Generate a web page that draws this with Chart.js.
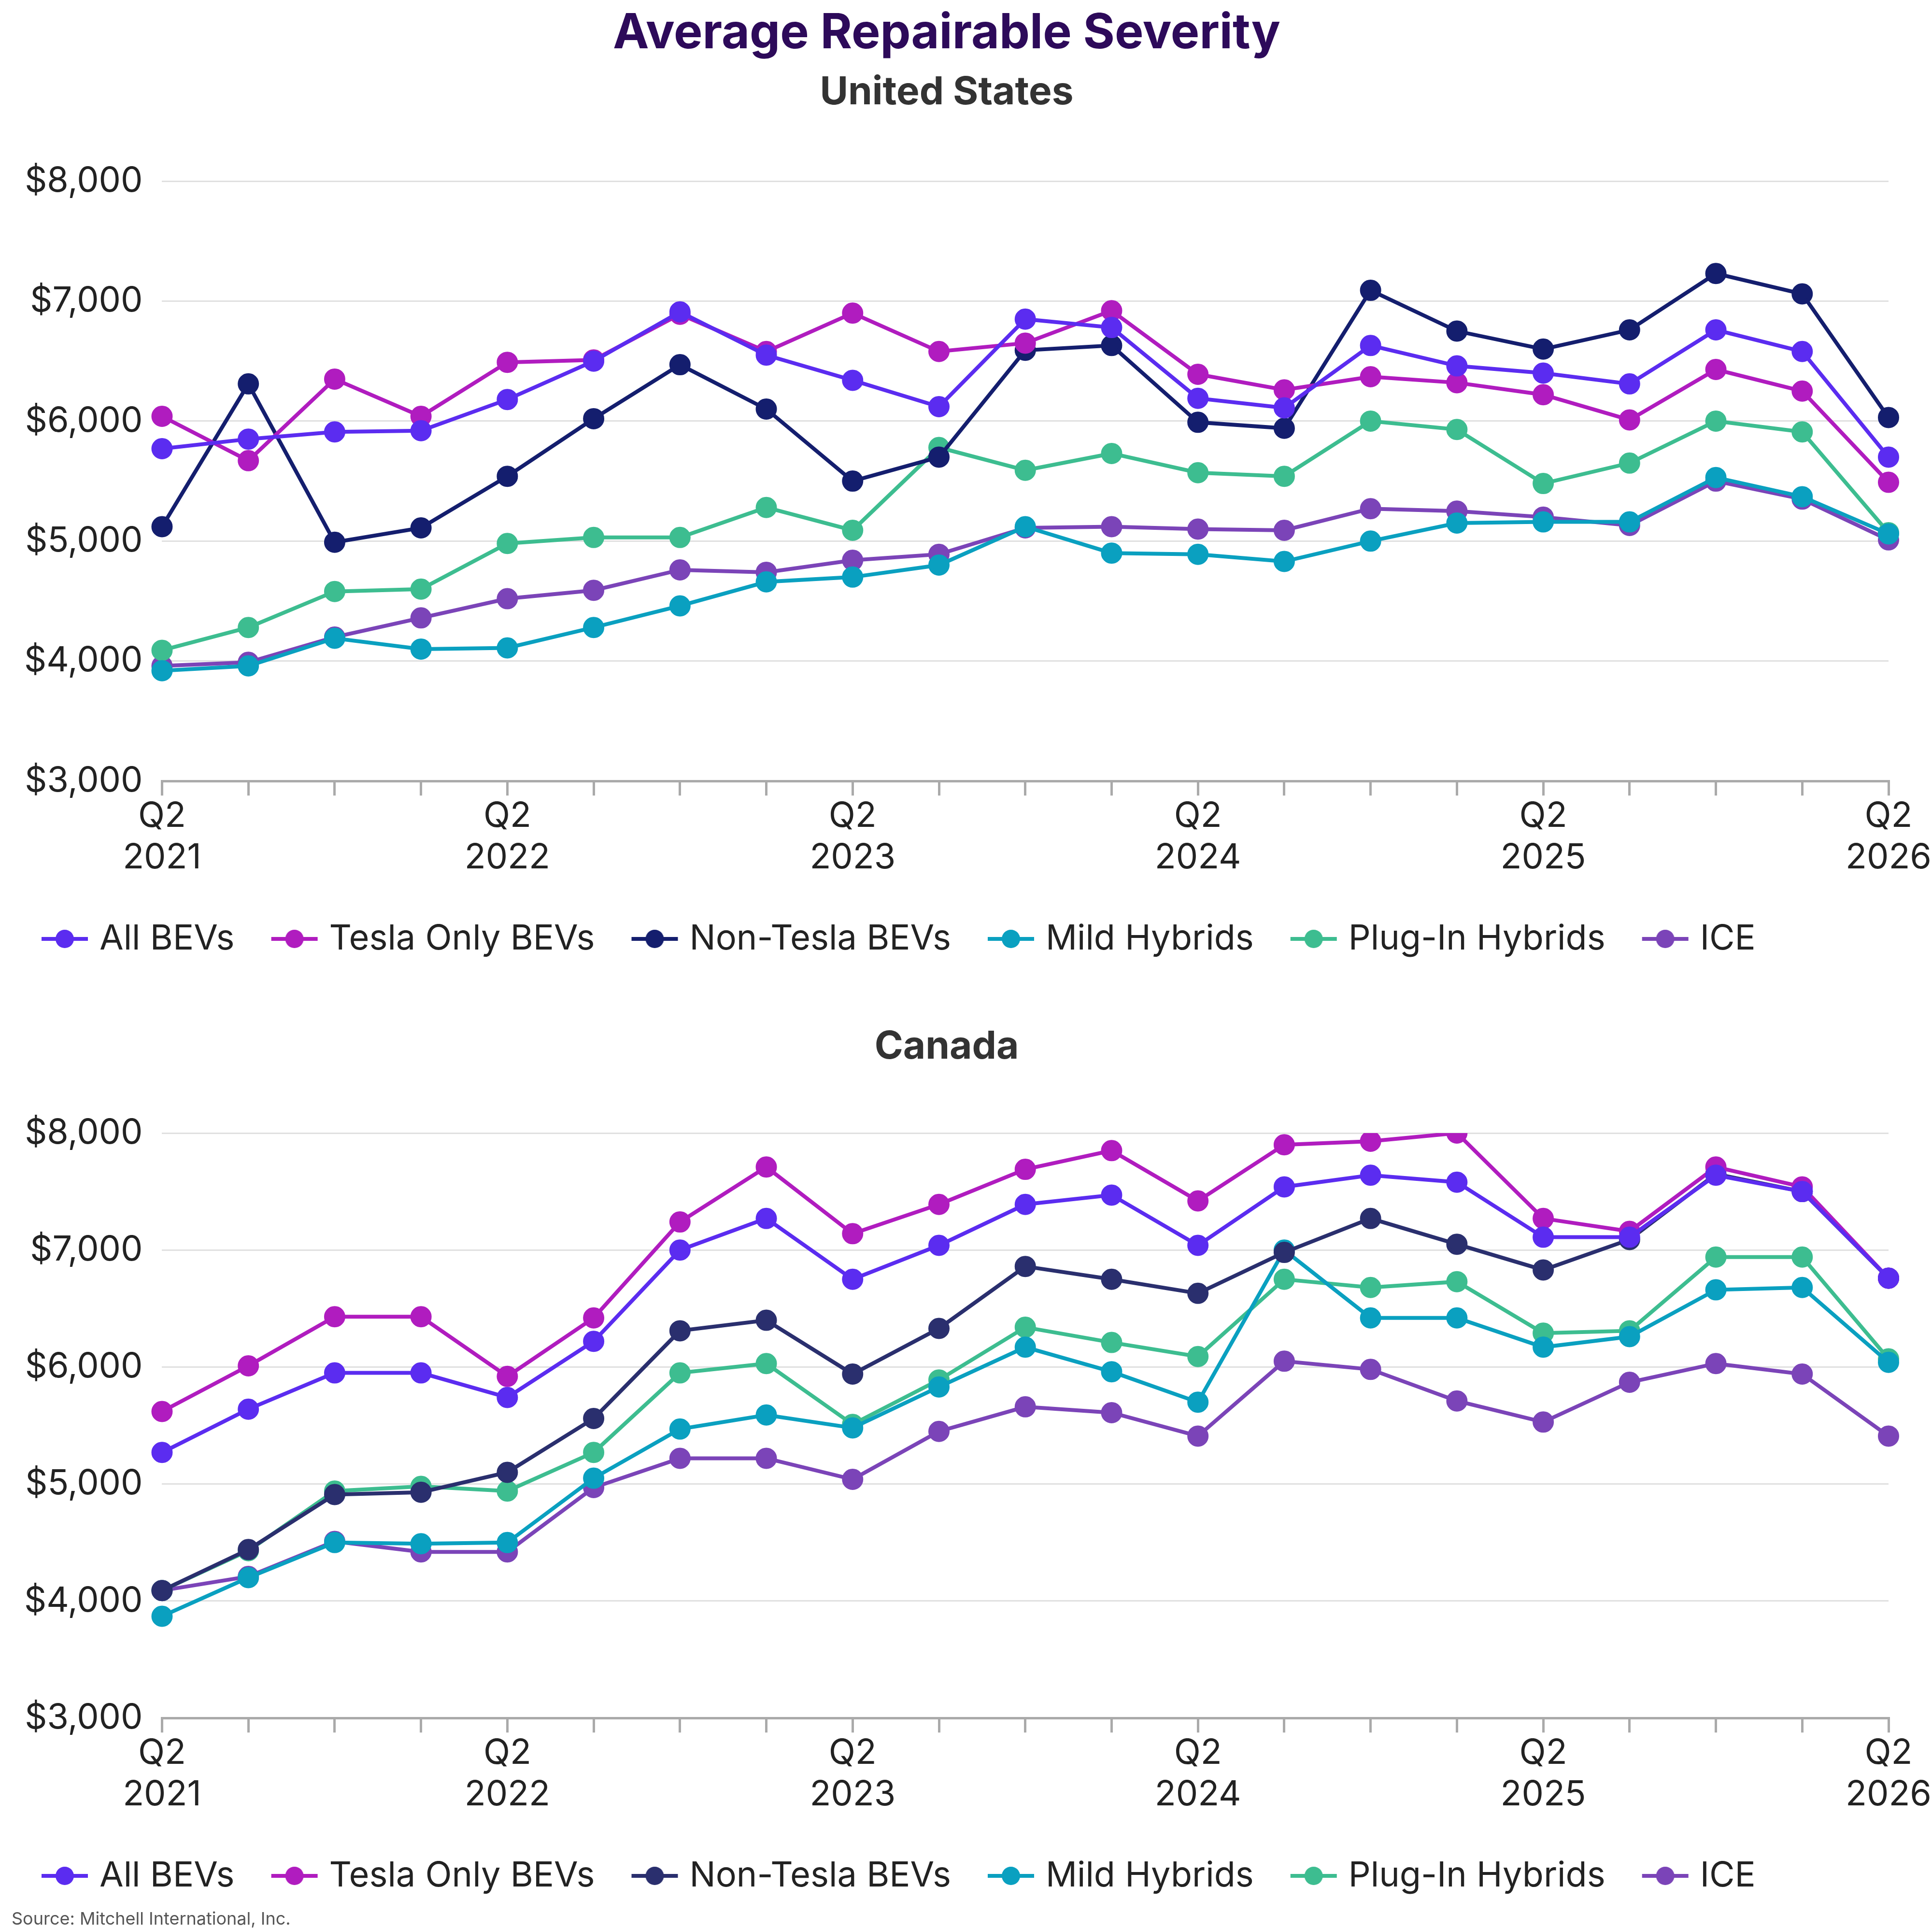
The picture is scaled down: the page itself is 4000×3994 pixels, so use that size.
<!DOCTYPE html>
<html><head><meta charset="utf-8">
<script src="https://cdn.jsdelivr.net/npm/chart.js@4"></script>
<style>
body{margin:0;background:#fff;font-family:Inter,sans-serif;}
canvas{position:absolute;left:0;}
#src{position:absolute;left:24px;top:3950px;font-size:36px;color:#555;}
</style></head><body>
<canvas id="us" width="4000" height="2050" style="top:0"></canvas>
<canvas id="ca" width="4000" height="1910" style="top:2050px"></canvas>
<div id="src">Source: Mitchell International, Inc.</div>
<script>
const quarters = [];
for (let i = 0; i < 21; i++) {
	const q = (i + 1) % 4 + 1, y = 2021 + Math.floor((i + 1) / 4);
	quarters.push(q === 2 ? ['Q2', String(y)] : '');
}
const seriesNames = ['All BEVs', 'Tesla Only BEVs', 'Non-Tesla BEVs', 'Mild Hybrids', 'Plug-In Hybrids', 'ICE'];

const usAllBev = [5770,5850,5910,5920,6180,6500,6910,6550,6340,6120,6850,6780,6190,6110,6630,6460,6400,6310,6760,6580,5700];
const usTesla = [6040,5670,6350,6040,6490,6510,6890,6580,6900,6580,6650,6920,6390,6260,6370,6320,6220,6010,6430,6250,5490];
const usNonTesla = [5120,6310,4990,5110,5540,6020,6470,6100,5500,5700,6590,6630,5990,5940,7090,6750,6600,6760,7230,7060,6030];
const usMild = [3920,3960,4190,4100,4110,4280,4460,4660,4700,4800,5120,4900,4890,4830,5000,5150,5160,5160,5530,5370,5060];
const usPlugIn = [4090,4280,4580,4600,4980,5030,5030,5280,5090,5780,5590,5730,5570,5540,6000,5930,5480,5650,6000,5910,5070];
const usIce = [3960,3990,4200,4360,4520,4590,4760,4740,4840,4890,5110,5120,5100,5090,5270,5250,5200,5130,5500,5350,5010];

const caAllBev = [5270,5640,5950,5950,5740,6220,7000,7270,6750,7040,7390,7470,7040,7540,7640,7580,7110,7110,7640,7500,6760];
const caTesla = [5620,6010,6430,6430,5920,6420,7240,7710,7140,7390,7690,7850,7420,7900,7930,8000,7270,7160,7710,7540,6760];
const caNonTesla = [4090,4440,4910,4930,5100,5560,6310,6400,5940,6330,6860,6750,6630,6980,7270,7050,6830,7090,7650,7500,6760];
const caMild = [3870,4200,4500,4490,4500,5050,5470,5590,5480,5830,6170,5960,5700,7000,6420,6420,6170,6260,6660,6680,6040];
const caPlugIn = [4090,4430,4940,4980,4940,5270,5950,6030,5510,5890,6340,6210,6090,6750,6680,6730,6290,6310,6940,6940,6070];
const caIce = [4090,4210,4510,4420,4420,4970,5220,5220,5040,5450,5660,5610,5410,6050,5980,5710,5530,5870,6030,5940,5410];

const usColors = ['#5b2cf0','#b01cbf','#141e6e','#0aa0c0','#3dbd90','#7b44b8'];
const caColors = ['#5b2cf0','#b01cbf','#2a2f6e','#0aa0c0','#3dbd90','#7b44b8'];

function legendIcon(color) {
	const c = document.createElement('canvas');
	c.width = 100; c.height = 44;
	const g = c.getContext('2d');
	g.strokeStyle = color; g.lineWidth = 8;
	g.beginPath(); g.moveTo(2, 22); g.lineTo(98, 22); g.stroke();
	g.fillStyle = color; g.beginPath(); g.arc(50, 22, 19, 0, Math.PI * 2); g.fill();
	return c;
}

function makeChart(id, series, colors, titles) {
	new Chart(document.getElementById(id), {
		type: 'line',
		data: {
			labels: quarters,
			datasets: series.map((d, i) => ({
				label: seriesNames[i], data: d,
				borderColor: colors[i], backgroundColor: colors[i],
				borderWidth: 8, pointRadius: 18, pointHoverRadius: 18, tension: 0
			}))
		},
		options: {
			responsive: false, animation: false, devicePixelRatio: 1,
			layout: { padding: { left: 10, right: 90, top: titles.title ? 10 : 70, bottom: titles.bottom } },
			plugins: {
				title: titles.title ? { display: true, text: titles.title, color: '#2d0a5a',
					font: { size: 100, weight: 'bold', family: 'Inter' }, padding: { top: 0, bottom: 14 } } : { display: false },
				subtitle: { display: true, text: titles.sub, color: '#333',
					font: { size: 80, weight: 'bold', family: 'Inter' }, padding: { bottom: titles.subPad } },
				legend: {
					position: 'bottom', align: 'start',
					labels: {
						font: { size: 72, family: 'Inter' }, color: '#222', boxWidth: 100, boxHeight: 44, padding: 88,
						usePointStyle: true,
						generateLabels: chart => chart.data.datasets.map((ds, i) => ({
							text: ds.label, pointStyle: legendIcon(colors[i]), datasetIndex: i,
							fillStyle: colors[i], strokeStyle: colors[i], fontColor: '#222'
						}))
					}
				},
				tooltip: { enabled: false }
			},
			scales: {
				x: {
					grid: { drawOnChartArea: false, drawTicks: true, tickLength: 30, color: '#aaa', lineWidth: 5 },
					border: { color: '#aaa', width: 5 },
					ticks: { autoSkip: false, maxRotation: 0, font: { size: 72, family: 'Inter' }, color: '#222', padding: 0 }
				},
				y: {
					min: 3000, max: 8000,
					grid: { color: '#e0e0e0', lineWidth: 3, drawTicks: false },
					border: { display: false },
					ticks: { stepSize: 1000, font: { size: 72, family: 'Inter' }, color: '#222', padding: 40,
						callback: v => '$' + v.toLocaleString('en-US') }
				}
			}
		}
	});
}

makeChart('us', [usAllBev, usTesla, usNonTesla, usMild, usPlugIn, usIce], usColors,
	{ title: 'Average Repairable Severity', sub: 'United States', subPad: 135, bottom: 60 });
makeChart('ca', [caAllBev, caTesla, caNonTesla, caMild, caPlugIn, caIce], caColors,
	{ sub: 'Canada', subPad: 130, bottom: 30 });
</script>
</body></html>
